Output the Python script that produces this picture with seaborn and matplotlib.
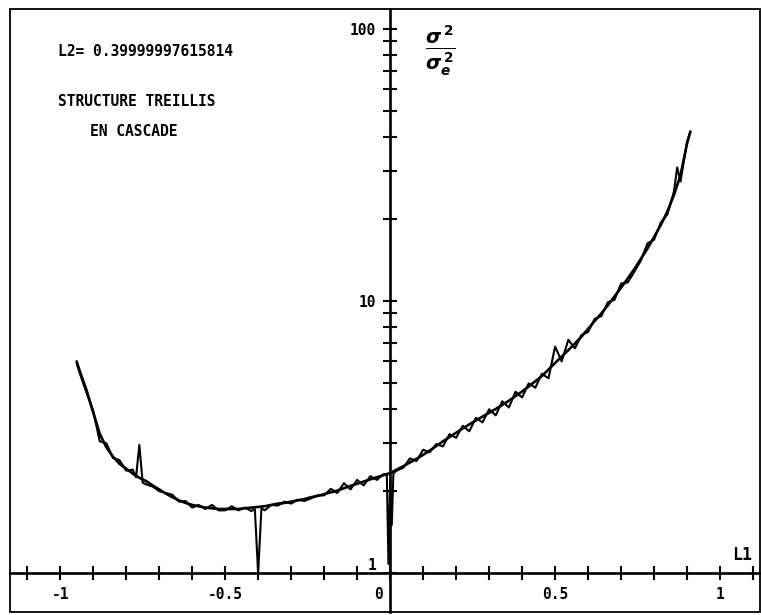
import numpy as np
import pandas as pd
import matplotlib
matplotlib.use("Agg")
import matplotlib.pyplot as plt
import matplotlib.ticker as mticker
import matplotlib.transforms as mtrans
from matplotlib.patches import Rectangle
import seaborn as sns

sns.set_style("white")
plt.rcParams['font.family'] = ['DejaVu Sans Mono', 'DejaVu Sans']
plt.rcParams['font.weight'] = 'bold'
plt.rcParams['text.color'] = 'black'

# courbe theorique
l1_theo = [-0.95, -0.94, -0.92, -0.90, -0.88, -0.86, -0.84, -0.82, -0.80, -0.78,
           -0.76, -0.74, -0.72, -0.70, -0.68, -0.66, -0.64, -0.62, -0.60, -0.58,
           -0.56, -0.54, -0.52, -0.50, -0.48, -0.46, -0.44, -0.42, -0.40, -0.38,
           -0.36, -0.34, -0.32, -0.30, -0.28, -0.26, -0.24, -0.22, -0.20, -0.18,
           -0.16, -0.14, -0.12, -0.10, -0.08, -0.06, -0.04, -0.02, 0.00, 0.02,
           0.04, 0.06, 0.08, 0.10, 0.12, 0.14, 0.16, 0.18, 0.20, 0.22,
           0.24, 0.26, 0.28, 0.30, 0.32, 0.34, 0.36, 0.38, 0.40, 0.42,
           0.44, 0.46, 0.48, 0.50, 0.52, 0.54, 0.56, 0.58, 0.60, 0.62,
           0.64, 0.66, 0.68, 0.70, 0.72, 0.74, 0.76, 0.78, 0.80, 0.82,
           0.84, 0.86, 0.88, 0.90, 0.91]
var_theo = [6.0, 5.5, 4.7, 3.9, 3.25, 2.9, 2.68, 2.52, 2.42, 2.32,
            2.24, 2.18, 2.1, 2.03, 1.96, 1.9, 1.85, 1.81, 1.78, 1.76,
            1.74, 1.73, 1.72, 1.72, 1.72, 1.72, 1.73, 1.74, 1.75, 1.76,
            1.78, 1.8, 1.81, 1.83, 1.85, 1.87, 1.9, 1.92, 1.95, 1.98,
            2.01, 2.05, 2.09, 2.13, 2.17, 2.21, 2.25, 2.29, 2.33, 2.4,
            2.47, 2.55, 2.63, 2.72, 2.82, 2.93, 3.05, 3.16, 3.28, 3.4,
            3.52, 3.64, 3.76, 3.88, 4.01, 4.15, 4.3, 4.47, 4.65, 4.85,
            5.07, 5.3, 5.6, 5.92, 6.25, 6.6, 6.98, 7.4, 7.9, 8.45,
            9.0, 9.65, 10.4, 11.2, 12.1, 13.1, 14.3, 15.6, 17.2, 19.0,
            21.3, 24.5, 29.0, 38.0, 42.0]

# mesures
l1_mes = [-0.95, -0.94, -0.92, -0.90, -0.88, -0.86, -0.84, -0.82, -0.80, -0.78,
          -0.77, -0.76, -0.75, -0.74, -0.72, -0.70, -0.68, -0.66, -0.64, -0.62,
          -0.60, -0.58, -0.56, -0.54, -0.52, -0.50, -0.48, -0.46, -0.44, -0.42,
          -0.41, -0.40, -0.39, -0.38, -0.36, -0.34, -0.32, -0.30, -0.28, -0.26,
          -0.24, -0.22, -0.20, -0.18, -0.16, -0.14, -0.12, -0.10, -0.08, -0.06,
          -0.04, -0.02, -0.01, -0.005, 0.00, 0.005, 0.01, 0.02, 0.04, 0.06,
          0.08, 0.10, 0.12, 0.14, 0.16, 0.18, 0.20, 0.22, 0.24, 0.26,
          0.28, 0.30, 0.32, 0.34, 0.36, 0.38, 0.40, 0.42, 0.44, 0.46,
          0.48, 0.50, 0.52, 0.54, 0.56, 0.58, 0.60, 0.62, 0.64, 0.66,
          0.68, 0.70, 0.72, 0.74, 0.76, 0.78, 0.80, 0.82, 0.84, 0.86,
          0.87, 0.88, 0.90, 0.91]
var_mes = [5.9, 5.4, 4.6, 3.95, 3.05, 3.0, 2.65, 2.6, 2.38, 2.4,
           2.25, 2.96, 2.15, 2.12, 2.08, 2.0, 1.97, 1.94, 1.83, 1.84,
           1.74, 1.78, 1.72, 1.78, 1.7, 1.7, 1.76, 1.7, 1.74, 1.69,
           1.72, 1.0, 1.73, 1.70, 1.78, 1.77, 1.83, 1.8, 1.86, 1.84,
           1.88, 1.93, 1.93, 2.04, 1.97, 2.14, 2.03, 2.2, 2.1, 2.27,
           2.2, 2.31, 2.3, 1.08, 2.2, 1.5, 2.33, 2.38, 2.44, 2.64,
           2.58, 2.84, 2.78, 2.98, 2.92, 3.24, 3.14, 3.48, 3.32, 3.72,
           3.58, 4.0, 3.8, 4.28, 4.06, 4.64, 4.42, 4.98, 4.8, 5.4,
           5.2, 6.8, 6.0, 7.2, 6.7, 7.5, 7.7, 8.6, 8.8, 9.9,
           10.1, 11.6, 11.7, 12.8, 14.1, 16.3, 16.8, 19.4, 20.8, 25.2,
           31.0, 27.5, 38.5, 42.0]

x_major = [-1, -0.5, 0, 0.5, 1]
x_labels = ["-1", "-0.5", "0", "0.5", "1"]
x_minor = [-1.1, -0.9, -0.8, -0.7, -0.6, -0.4, -0.3, -0.2, -0.1,
           0.1, 0.2, 0.3, 0.4, 0.6, 0.7, 0.8, 0.9, 1.1]
y_major = [1, 10, 100]
y_labels = ["1", "10", "100"]
y_minor = [2, 3, 4, 5, 6, 7, 8, 9, 20, 30, 40, 50, 60, 70, 80, 90]

W, H = 761, 615
fig = plt.figure(figsize=(W / 100, H / 100), dpi=100)
ax = fig.add_axes([10 / W, 3 / H, 750 / W, 603 / H])

sns.lineplot(x=l1_theo, y=var_theo, color="black", lw=1.9, sort=False, ax=ax)
sns.lineplot(x=l1_mes, y=var_mes, color="black", lw=1.5, sort=False, ax=ax)

ax.set_yscale("log")
ax.set_xlim(-1.152, 1.121)
ax.set_ylim(0.719, 118.5)

# axes qui se croisent en (0, 1), plus le cadre
ax.spines["left"].set_position(("data", 0))
ax.spines["bottom"].set_position(("data", 1))
ax.spines["top"].set_visible(False)
ax.spines["right"].set_visible(False)
for s in ["left", "bottom"]:
    ax.spines[s].set_linewidth(1.9)
    ax.spines[s].set_color("black")
ax.add_patch(Rectangle((0, 0), 1, 1, transform=ax.transAxes, fill=False,
                       ec="black", lw=1.3, clip_on=False))

ax.xaxis.set_major_locator(mticker.FixedLocator(x_major))
ax.xaxis.set_major_formatter(mticker.FixedFormatter(x_labels))
ax.xaxis.set_minor_locator(mticker.FixedLocator(x_minor))
ax.xaxis.set_minor_formatter(mticker.NullFormatter())
ax.yaxis.set_major_locator(mticker.FixedLocator(y_major))
ax.yaxis.set_major_formatter(mticker.FixedFormatter(y_labels))
ax.yaxis.set_minor_locator(mticker.FixedLocator(y_minor))
ax.yaxis.set_minor_formatter(mticker.NullFormatter())
ax.tick_params(which="both", bottom=True, left=True, direction="inout",
               length=10, width=1.5, colors="black", labelsize=10.5)
ax.tick_params(axis="x", which="both", pad=5)
ax.tick_params(axis="y", which="both", pad=5)
ax.set_xlabel("")
ax.set_ylabel("")

fig.canvas.draw()
ax.get_yticklabels()[0].set_verticalalignment("bottom")
lab0 = ax.get_xticklabels()[2]
lab0.set_transform(lab0.get_transform() +
                   mtrans.ScaledTranslation(-0.12, 0, fig.dpi_scale_trans))

def px(x, y):
    return x / W, 1 - y / H

fig.text(*px(58, 51), "L2= 0.39999997615814", ha="left", va="center", fontsize=10.5)
fig.text(*px(58, 102), "STRUCTURE TREILLIS", ha="left", va="center", fontsize=10.5)
fig.text(*px(90, 132), "EN CASCADE", ha="left", va="center", fontsize=10.5)
fig.text(*px(742, 555), "L1", ha="center", va="center", fontsize=12)
fig.text(*px(440, 51), r"$\frac{\sigma^{\,2}}{\sigma_e^{\,2}}$", ha="center", va="center", fontsize=20)

fig.savefig("out.png", dpi=100)
